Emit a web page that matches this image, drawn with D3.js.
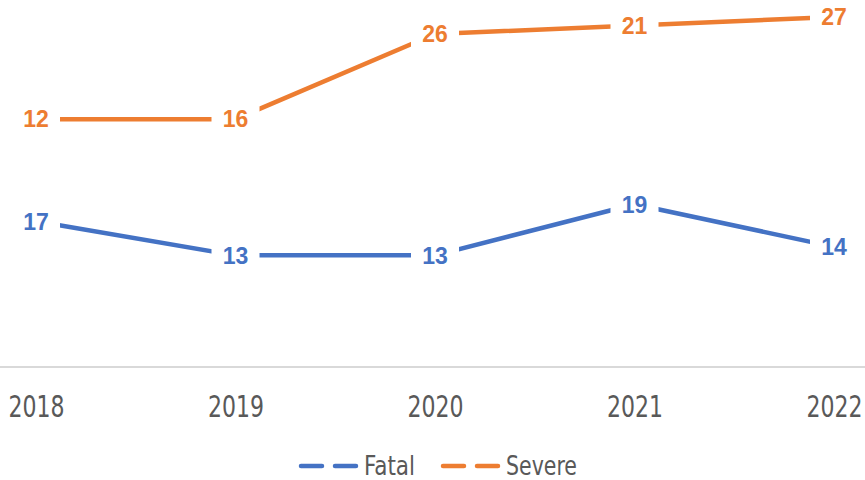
<!DOCTYPE html>
<html>
<head>
<meta charset="utf-8">
<script src="https://cdn.jsdelivr.net/npm/d3@7"></script>
<style>
  body { margin: 0; background: #fff; }
  svg { display: block; }
</style>
</head>
<body>
<svg id="chart"></svg>
<script>
// values
var years = ["2018", "2019", "2020", "2021", "2022"]
var fatal = [17, 13, 13, 19, 14]
var severe = [12, 16, 26, 21, 27]
var seriesNames = ["Fatal", "Severe"]
var colors = ["#4472C4", "#ED7D31"]

var width = 865, height = 480
var narrow = "'Liberation Sans Narrow', 'DejaVu Sans Condensed', sans-serif"
var svg = d3.select("#chart")
    .attr("width", width)
    .attr("height", height)

// stacked line chart: severe sits on top of fatal
var rows = years.map((yr, i) => ({year: yr, Fatal: fatal[i], Severe: severe[i]}))
var stacked = d3.stack().keys(seriesNames)(rows)

var x = d3.scalePoint()
    .domain(years)
    .range([36, 834])

var y = d3.scaleLinear()
    .domain([0, 43])
    .range([366, 0])

// category axis line
svg.append("line")
    .attr("x1", 0)
    .attr("x2", width)
    .attr("y1", y(0) + 1)
    .attr("y2", y(0) + 1)
    .attr("stroke", "#d9d9d9")
    .attr("stroke-width", 2)

var xAxis = svg.append("g")
    .attr("transform", "translate(0," + (y(0) + 1) + ")")
    .call(d3.axisBottom(x).tickSize(0).tickPadding(0))
xAxis.select(".domain").remove()
xAxis.selectAll("text")
    .attr("y", 50)
    .attr("dy", null)
    .attr("fill", "#595959")
    .attr("textLength", 56)
    .attr("lengthAdjust", "spacingAndGlyphs")
    .style("font-family", narrow)
    .style("font-size", "30px")

var line = d3.line()
    .x(d => x(d.data.year))
    .y(d => y(d[1]))

svg.selectAll(".series")
    .data(stacked)
    .enter()
    .append("path")
        .attr("class", "series")
        .attr("d", line)
        .attr("fill", "none")
        .attr("stroke", (d, i) => colors[i])
        .attr("stroke-width", 4.5)
        .attr("stroke-linecap", "round")
        .attr("stroke-linejoin", "round")

// data labels (the series' own values) sit on the points with a white box
var labels = []
stacked.forEach((s, si) => {
    s.forEach(d => {
        labels.push({x: x(d.data.year), y: y(d[1]), text: d.data[s.key], color: colors[si]})
    })
})

var lg = svg.append("g")
lg.selectAll("rect")
    .data(labels)
    .enter()
    .append("rect")
        .attr("x", d => d.x - 24)
        .attr("y", d => d.y - 13)
        .attr("width", 48)
        .attr("height", 26)
        .attr("fill", "#fff")

lg.selectAll("text")
    .data(labels)
    .enter()
    .append("text")
        .attr("x", d => d.x)
        .attr("y", d => d.y)
        .attr("dy", "0.36em")
        .attr("text-anchor", "middle")
        .attr("fill", d => d.color)
        .style("font-family", "'Liberation Sans', Arial, sans-serif")
        .style("font-weight", "bold")
        .style("font-size", "23px")
        .text(d => d.text)

// legend
var legendX = [300, 442]
var legendW = [51, 71]
var legend = svg.append("g")
    .selectAll("g")
    .data(seriesNames)
    .enter()
    .append("g")
        .attr("transform", (d, i) => "translate(" + legendX[i] + ",466)")

legend.append("line")
    .attr("x1", 1)
    .attr("x2", 59)
    .attr("stroke", (d, i) => colors[i])
    .attr("stroke-width", 4.5)
    .attr("stroke-linecap", "round")
    .attr("stroke-dasharray", "21,13")

legend.append("text")
    .attr("x", 64)
    .attr("y", 9)
    .attr("fill", "#595959")
    .attr("textLength", (d, i) => legendW[i])
    .attr("lengthAdjust", "spacingAndGlyphs")
    .style("font-family", narrow)
    .style("font-size", "26px")
    .text(d => d)
</script>
</body>
</html>
